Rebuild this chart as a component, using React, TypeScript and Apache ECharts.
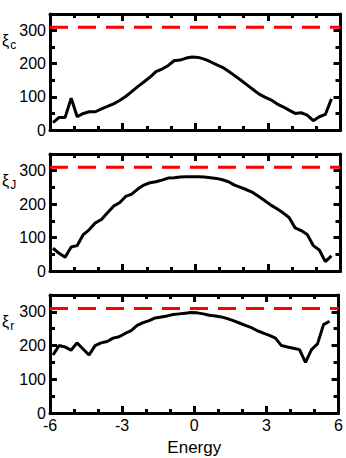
import React, { useEffect, useRef } from "react";
import * as echarts from "echarts";

const energy = [
  -5.875, -5.625, -5.375, -5.125, -4.875, -4.625, -4.375, -4.125, -3.875, -3.625,
  -3.375, -3.125, -2.875, -2.625, -2.375, -2.125, -1.875, -1.625, -1.375, -1.125,
  -0.875, -0.625, -0.375, -0.125, 0.125, 0.375, 0.625, 0.875, 1.125, 1.375,
  1.625, 1.875, 2.125, 2.375, 2.625, 2.875, 3.125, 3.375, 3.625, 3.875,
  4.125, 4.375, 4.625, 4.875, 5.125, 5.375, 5.625,
];

const xiC = [
  22, 38, 38, 96, 40, 50, 55, 55, 64, 71,
  79, 89, 101, 116, 131, 145, 159, 176, 184, 194,
  209, 211, 217, 220, 219, 214, 206, 197, 189, 177,
  164, 151, 137, 123, 109, 99, 91, 79, 70, 60,
  50, 52, 45, 28, 40, 47, 94,
];

const xiJ = [
  68, 53, 41, 72, 76, 109, 124, 144, 154, 174,
  194, 204, 223, 230, 245, 257, 264, 267, 272, 278,
  279, 281, 282, 282, 282, 281, 279, 277, 273, 267,
  257, 250, 243, 235, 223, 210, 197, 186, 174, 160,
  129, 121, 109, 76, 63, 28, 45,
];

const xiR = [
  172, 200, 196, 186, 208, 190, 172, 200, 208, 212,
  222, 226, 236, 244, 260, 268, 274, 282, 285, 288,
  292, 294, 296, 298, 297, 294, 290, 288, 285, 280,
  274, 267, 260, 253, 244, 237, 230, 222, 200, 196,
  192, 188, 150, 188, 205, 262, 272,
];

const refX = [-6, 6];
const refY = [310, 310];

const xTickLabels = ["-6", "-3", "0", "3", "6"];
const panelNames = [
  { main: "ξ", sub: "c" },
  { main: "ξ", sub: "J" },
  { main: "ξ", sub: "r" },
];
const panelData = [xiC, xiJ, xiR];

const FONT = "'Liberation Sans', Arial, Helvetica, sans-serif";

export default function App() {
  const ref = useRef<HTMLDivElement>(null);
  useEffect(() => {
    if (!ref.current) return;
    const chart = echarts.init(ref.current, undefined, { renderer: "svg" });

    const grids = [
      { left: 50, right: 5.5, top: 14, height: 116 },
      { left: 50, right: 5.5, top: 154, height: 117 },
      { left: 50, right: 5.5, top: 295, height: 118 },
    ];

    const xAxes: any[] = [];
    const yAxes: any[] = [];
    const series: any[] = [];
    const graphics: any[] = [];

    grids.forEach((g, i) => {
      const isLast = i === grids.length - 1;
      ["bottom", "top"].forEach((pos) => {
        xAxes.push({
          type: "value",
          gridIndex: i,
          position: pos,
          min: -6,
          max: 6,
          interval: 3,
          axisLine: { show: true, onZero: false, lineStyle: { color: "#000", width: 3 } },
          axisTick: { show: true, inside: true, length: 7, lineStyle: { color: "#000", width: 3 } },
          minorTick: { show: true, splitNumber: 3, length: 4, lineStyle: { color: "#000", width: 3 } },
          splitLine: { show: false },
          axisLabel: {
            show: isLast && pos === "bottom",
            color: "#000",
            fontSize: 16,
            fontFamily: FONT,
            margin: 4,
            formatter: (v: number) => {
              const idx = Math.round((v + 6) / 3);
              return xTickLabels[idx] ?? "";
            },
          },
          name: isLast && pos === "bottom" ? "Energy" : "",
          nameLocation: "middle",
          nameGap: 26,
          nameTextStyle: { color: "#000", fontSize: 17, fontFamily: FONT },
        });
      });
      ["left", "right"].forEach((pos) => {
        yAxes.push({
          type: "value",
          gridIndex: i,
          position: pos,
          min: 0,
          max: 350,
          interval: 100,
          axisLine: { show: true, onZero: false, lineStyle: { color: "#000", width: 3 } },
          axisTick: { show: true, inside: true, length: 7, lineStyle: { color: "#000", width: 3 } },
          minorTick: { show: true, splitNumber: 2, length: 5, lineStyle: { color: "#000", width: 3 } },
          splitLine: { show: false },
          axisLabel: {
            show: pos === "left",
            color: "#000",
            fontSize: 16,
            fontFamily: FONT,
            margin: 4,
            formatter: (v: number) => (v > 300 ? "" : String(v)),
          },
        });
      });

      series.push({
        type: "line",
        xAxisIndex: 2 * i,
        yAxisIndex: 2 * i,
        data: energy.map((e, k) => [e, panelData[i][k]]),
        showSymbol: false,
        lineStyle: { color: "#000", width: 3 },
        z: 3,
      });
      series.push({
        type: "line",
        xAxisIndex: 2 * i,
        yAxisIndex: 2 * i,
        data: refX.map((x, k) => [x, refY[k]]),
        showSymbol: false,
        lineStyle: { color: "#ff0000", width: 3, type: [18, 10] },
        z: 4,
      });

      graphics.push({
        type: "text",
        left: 2,
        top: g.top + 18,
        style: {
          text: "{a|" + panelNames[i].main + "}{b|" + panelNames[i].sub + "}",
          rich: {
            a: { fontSize: 16, fontFamily: FONT, fill: "#000" },
            b: { fontSize: 12, fontFamily: FONT, fill: "#000", padding: [10, 0, 0, 1] },
          },
        },
      });
    });

    chart.setOption({
      animation: false,
      backgroundColor: "#fff",
      grid: grids,
      xAxis: xAxes,
      yAxis: yAxes,
      series,
      graphic: graphics,
    });
    return () => chart.dispose();
  }, []);

  return <div ref={ref} style={{ width: 346, height: 458, position: "absolute", left: 0, top: 0 }} />;
}
